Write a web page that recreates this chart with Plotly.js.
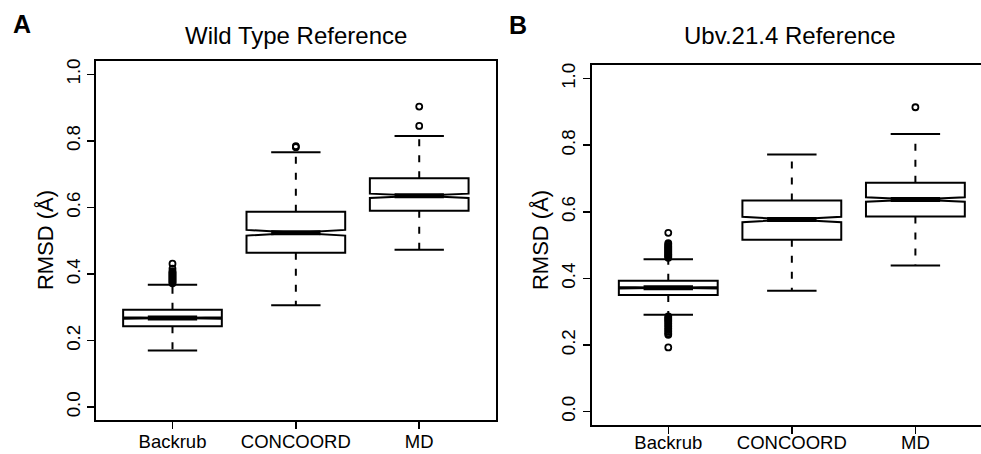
<!DOCTYPE html>
<html>
<head>
<meta charset="utf-8">
<script src="https://cdn.plot.ly/plotly-3.0.1.min.js"></script>
<style>
html, body { margin: 0; padding: 0; overflow: hidden; background: #fff; }
#chart { width: 1000px; height: 454px; }
</style>
</head>
<body>
<div id="chart"></div>
<script>
// ---------- data ----------
const categories = ['Backrub', 'CONCOORD', 'MD'];
const yTickVals = [0, 0.2, 0.4, 0.6, 0.8, 1.0];

// Panel A: Wild Type Reference
const wtQ1 = [0.243, 0.464, 0.590];
const wtMedian = [0.268, 0.524, 0.635];
const wtQ3 = [0.293, 0.587, 0.688];
const wtLowerWhisker = [0.170, 0.306, 0.473];
const wtUpperWhisker = [0.368, 0.766, 0.815];
const wtNotchSpan = [0.002, 0.0085, 0.0065];
const wtOutliers = [
  [0.372, 0.375, 0.378, 0.381, 0.384, 0.387, 0.390, 0.393, 0.396, 0.399, 0.402, 0.405, 0.408, 0.416, 0.431],
  [0.781, 0.784],
  [0.845, 0.903]
];

// Panel B: Ubv.21.4 Reference
const ubvQ1 = [0.350, 0.516, 0.586];
const ubvMedian = [0.372, 0.577, 0.637];
const ubvQ3 = [0.393, 0.634, 0.687];
const ubvLowerWhisker = [0.291, 0.363, 0.439];
const ubvUpperWhisker = [0.458, 0.772, 0.834];
const ubvNotchSpan = [0.002, 0.008, 0.0065];
const ubvOutliers = [
  [0.462, 0.465, 0.468, 0.471, 0.474, 0.477, 0.480, 0.483, 0.486, 0.489, 0.492, 0.495, 0.498, 0.502, 0.506, 0.537,
   0.286, 0.282, 0.278, 0.274, 0.270, 0.265, 0.260, 0.255, 0.250, 0.245, 0.240, 0.235, 0.231, 0.193],
  [],
  [0.914]
];

// ---------- helpers ----------
const FONT = '"Liberation Sans", Arial, Helvetica, sans-serif';
const positions = categories.map((c, i) => i + 1);
const BOXW = 0.8, HALF = 0.2;

function panelTraces(xa, ya, q1, med, q3, lo, hi, notch, outl) {
  const traces = [];
  traces.push({
    type: 'box', xaxis: xa, yaxis: ya,
    x: positions, q1: q1, median: med, q3: q3,
    lowerfence: q1, upperfence: q3, notchspan: notch,
    notched: true, notchwidth: 0.5, whiskerwidth: 0,
    width: BOXW, boxpoints: false,
    line: { color: '#000', width: 2 }, fillcolor: '#fff',
    hoverinfo: 'skip', showlegend: false
  });
  // dashed whiskers
  const wx = [], wy = [];
  positions.forEach((p, i) => {
    wx.push(p, p, null, p, p, null);
    wy.push(q3[i], hi[i], null, q1[i], lo[i], null);
  });
  traces.push({
    type: 'scatter', mode: 'lines', xaxis: xa, yaxis: ya, x: wx, y: wy,
    line: { color: '#000', width: 2, dash: '7px,9px' }, hoverinfo: 'skip', showlegend: false
  });
  // caps
  const cx = [], cy = [];
  positions.forEach((p, i) => {
    cx.push(p - HALF, p + HALF, null, p - HALF, p + HALF, null);
    cy.push(hi[i], hi[i], null, lo[i], lo[i], null);
  });
  traces.push({
    type: 'scatter', mode: 'lines', xaxis: xa, yaxis: ya, x: cx, y: cy,
    line: { color: '#000', width: 2 }, hoverinfo: 'skip', showlegend: false
  });
  // thick median
  const mx = [], my = [];
  positions.forEach((p, i) => {
    mx.push(p - HALF, p + HALF, null);
    my.push(med[i], med[i], null);
  });
  traces.push({
    type: 'scatter', mode: 'lines', xaxis: xa, yaxis: ya, x: mx, y: my,
    line: { color: '#000', width: 5 }, hoverinfo: 'skip', showlegend: false
  });
  // outliers
  const ox = [], oy = [];
  positions.forEach((p, i) => {
    outl[i].forEach(v => { ox.push(p); oy.push(v); });
  });
  traces.push({
    type: 'scatter', mode: 'markers', xaxis: xa, yaxis: ya, x: ox, y: oy,
    marker: { symbol: 'circle-open', size: 6, color: '#000', line: { width: 1.8, color: '#000' } },
    hoverinfo: 'skip', showlegend: false
  });
  return traces;
}

const data = [].concat(
  panelTraces('x', 'y', wtQ1, wtMedian, wtQ3, wtLowerWhisker, wtUpperWhisker, wtNotchSpan, wtOutliers),
  panelTraces('x2', 'y2', ubvQ1, ubvMedian, ubvQ3, ubvLowerWhisker, ubvUpperWhisker, ubvNotchSpan, ubvOutliers)
);

function xAxis(domain, anchor, standoff) {
  return {
    domain: domain, anchor: anchor, range: [0.38, 3.62],
    tickmode: 'array', tickvals: positions, ticktext: categories,
    ticks: 'outside', ticklen: 7, tickwidth: 1.5, tickcolor: '#000',
    ticklabelstandoff: standoff,
    showline: true, linecolor: '#000', linewidth: 2, mirror: true,
    showgrid: false, zeroline: false,
    tickfont: { family: FONT, size: 18.5, color: '#000' }
  };
}
function yAxis(domain, anchor) {
  return {
    domain: domain, anchor: anchor, range: [-0.04, 1.04],
    tickmode: 'array', tickvals: yTickVals, ticktext: yTickVals.map(v => v.toFixed(1)),
    tickangle: -90,
    ticks: 'outside', ticklen: 7, tickwidth: 1.5, tickcolor: '#000',
    showline: true, linecolor: '#000', linewidth: 2, mirror: true,
    showgrid: false, zeroline: false,
    tickfont: { family: FONT, size: 18.7, color: '#000' }
  };
}

const layout = {
  width: 1000, height: 454,
  margin: { l: 96, r: 8, t: 61, b: 29, pad: 0 },
  paper_bgcolor: '#fff', plot_bgcolor: '#fff',
  showlegend: false,
  xaxis: xAxis([0, 0.4461], 'y', -4),
  yaxis: yAxis([0.0124, 1], 'x'),
  xaxis2: xAxis([0.5532, 1], 'y2', -7),
  yaxis2: yAxis([0, 0.9882], 'x2'),
  annotations: [
    { text: 'Wild Type Reference', xref: 'paper', yref: 'paper', x: 0.2232, y: 1.0706,
      xanchor: 'center', yanchor: 'middle', showarrow: false,
      font: { family: FONT, size: 24, color: '#000' } },
    { text: 'Ubv.21.4 Reference', xref: 'paper', yref: 'paper', x: 0.7751, y: 1.0706,
      xanchor: 'center', yanchor: 'middle', showarrow: false,
      font: { family: FONT, size: 24, color: '#000' } },
    { text: 'RMSD (Å)', xref: 'paper', yref: 'paper', x: -0.0569, y: 0.508, textangle: -90,
      xanchor: 'center', yanchor: 'middle', showarrow: false,
      font: { family: FONT, size: 22, color: '#000' } },
    { text: 'RMSD (Å)', xref: 'paper', yref: 'paper', x: 0.4955, y: 0.508, textangle: -90,
      xanchor: 'center', yanchor: 'middle', showarrow: false,
      font: { family: FONT, size: 22, color: '#000' } },
    { text: '<b>A</b>', xref: 'paper', yref: 'paper', x: -0.0829, y: 1.1025,
      xanchor: 'center', yanchor: 'middle', showarrow: false,
      font: { family: FONT, size: 25, color: '#000' } },
    { text: '<b>B</b>', xref: 'paper', yref: 'paper', x: 0.471, y: 1.0997,
      xanchor: 'center', yanchor: 'middle', showarrow: false,
      font: { family: FONT, size: 25, color: '#000' } }
  ]
};

Plotly.newPlot('chart', data, layout, { staticPlot: true, displayModeBar: false });
</script>
</body>
</html>
